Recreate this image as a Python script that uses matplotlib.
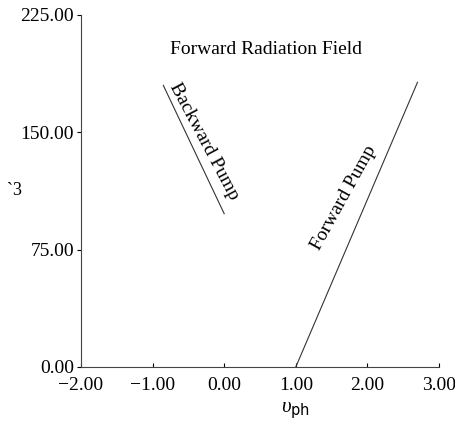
import matplotlib.pyplot as plt

# line end points
fwd_x = [1.0, 2.7]
fwd_y = [0.0, 182.0]
bwd_x = [-0.85, 0.0]
bwd_y = [180.0, 98.0]

xticks = [-2, -1, 0, 1, 2, 3]
yticks = [0, 75, 150, 225]

plt.rcParams['font.family'] = ['Liberation Serif', 'DejaVu Serif']
plt.rcParams['mathtext.fontset'] = 'custom'
plt.rcParams['mathtext.rm'] = 'Liberation Serif'
plt.rcParams['mathtext.it'] = 'Liberation Serif:italic'
plt.rcParams['mathtext.sf'] = 'DejaVu Sans'

fig = plt.figure(figsize=(4.56, 4.26), dpi=100)
ax = fig.add_axes([0.1776, 0.1385, 0.7851, 0.8263])

ax.plot(fwd_x, fwd_y, color='#333333', lw=0.8)
ax.plot(bwd_x, bwd_y, color='#333333', lw=0.8)

ax.set_xlim(-2, 3)
ax.set_ylim(0, 225)
ax.set_xticks(xticks)
ax.set_yticks(yticks)
ax.set_xticklabels([f'{v:.2f}'.replace('-', '\u2212') for v in xticks])
ax.set_yticklabels([f'{v:.2f}' for v in yticks])
ax.tick_params(axis='x', direction='in', length=3, labelsize=14, pad=7)
ax.tick_params(axis='y', direction='out', length=3, labelsize=14, pad=2)

for s in ['top', 'right']:
    ax.spines[s].set_visible(False)
for s in ['left', 'bottom']:
    ax.spines[s].set_color('#444444')
    ax.spines[s].set_linewidth(0.8)

ax.set_xlabel(r'$\upsilon_{\mathsf{ph}}$', fontsize=15, va='center')
ax.xaxis.set_label_coords(0.6, -0.122)
ax.set_ylabel('`3', fontsize=13, rotation=0, va='center', ha='center')
ax.yaxis.set_label_coords(-0.187, 0.5)

ax.text(0.58, 203, 'Forward Radiation Field', fontsize=14, ha='center', va='center')
ax.text(-0.28, 144, 'Backward Pump', fontsize=14, ha='center', va='center', rotation=-62)
ax.text(1.67, 108, 'Forward Pump', fontsize=14, ha='center', va='center', rotation=61)

fig.savefig('out.png', dpi=100)
